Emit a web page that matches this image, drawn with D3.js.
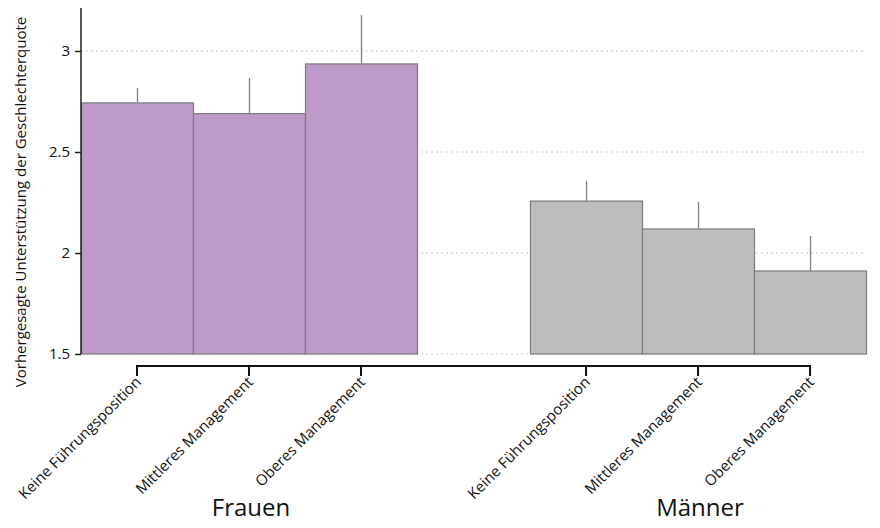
<!DOCTYPE html>
<html><head><meta charset="utf-8">
<script src="https://cdn.jsdelivr.net/npm/d3@7"></script>
<style>body{margin:0;background:#fff}svg{display:block}text{font-family:"Open Sans",sans-serif;fill:#111}</style>
</head><body><svg id="c" width="880" height="528"></svg>
<script>
const groups = ["Frauen", "Männer"];
const categories = ["Keine Führungsposition", "Mittleres Management", "Oberes Management"];
const frauenValues = [2.743, 2.690, 2.936];
const frauenUpper = [2.817, 2.866, 3.178];
const maennerValues = [2.257, 2.119, 1.911];
const maennerUpper = [2.356, 2.252, 2.084];
const yTicks = [1.5, 2, 2.5, 3];
const yTickLabels = ["1.5", "2", "2.5", "3"];
const groupColors = ["#bd9bc9", "#bcbdbf"];

const data = [];
groups.forEach((g, gi) => {
  const vals = gi === 0 ? frauenValues : maennerValues;
  const ups = gi === 0 ? frauenUpper : maennerUpper;
  categories.forEach((c, ci) => data.push({group: g, gi, cat: c, value: vals[ci], upper: ups[ci]}));
});

const svg = d3.select("#c");
const mLeft = 81, mRight = 866, mTop = 8, mBottom = 354;
const y = d3.scaleLinear().domain([1.5, 1.5 + (mBottom - mTop) / 202]).range([mBottom, mTop]);
const x0 = d3.scaleBand().domain(groups).range([mLeft, mRight]).paddingInner(113 / 449).paddingOuter(0);
const x1 = d3.scaleBand().domain(categories).range([0, x0.bandwidth()]).padding(0);

// gridlines
svg.append("g").selectAll("line").data(yTicks).join("line")
  .attr("x1", mLeft).attr("x2", mRight).attr("y1", d => y(d)).attr("y2", d => y(d))
  .attr("stroke", "#c8c8c8").attr("stroke-width", 1).attr("stroke-dasharray", "2,3");

// bars
const bars = svg.append("g");
bars.selectAll("rect").data(data).join("rect")
  .attr("x", d => x0(d.group) + x1(d.cat) + 0.5)
  .attr("y", d => y(d.value))
  .attr("width", x1.bandwidth())
  .attr("height", d => y(1.5) - y(d.value))
  .attr("fill", d => groupColors[d.gi])
  .attr("stroke", "#7a7a7a").attr("stroke-width", 1.2);

// error bars (upper only)
bars.selectAll("line").data(data).join("line")
  .attr("x1", d => x0(d.group) + x1(d.cat) + x1.bandwidth() / 2 + 0.5)
  .attr("x2", d => x0(d.group) + x1(d.cat) + x1.bandwidth() / 2 + 0.5)
  .attr("y1", d => y(d.value)).attr("y2", d => y(d.upper))
  .attr("stroke", "#808080").attr("stroke-width", 1.3);

// y axis
const yAxis = d3.axisLeft(y).tickValues(yTicks).tickFormat((d, i) => yTickLabels[i]).tickSize(6).tickPadding(5);
const ya = svg.append("g").attr("transform", `translate(${mLeft},0)`).call(yAxis);
ya.select(".domain").attr("stroke", "#222").attr("stroke-width", 1.5).attr("d", `M0,${mTop}V${mBottom}`);
ya.selectAll(".tick line").attr("stroke", "#222").attr("stroke-width", 1.5);
ya.selectAll(".tick text").attr("font-size", 15).attr("font-family", "Open Sans").attr("fill", "#111");

svg.append("text").attr("transform", `translate(26,202) rotate(-90)`)
  .attr("text-anchor", "middle").attr("font-size", 15)
  .text("Vorhergesagte Unterstützung der Geschlechterquote");

// bottom bracket axis
const centers = data.map(d => x0(d.group) + x1(d.cat) + x1.bandwidth() / 2);
const axY = 366;
const bx = svg.append("g");
bx.append("line").attr("x1", d3.min(centers)).attr("x2", d3.max(centers))
  .attr("y1", axY).attr("y2", axY).attr("stroke", "#111").attr("stroke-width", 2);
bx.selectAll("line.t").data(data).join("line").attr("class", "t")
  .attr("x1", d => x0(d.group) + x1(d.cat) + x1.bandwidth() / 2)
  .attr("x2", d => x0(d.group) + x1(d.cat) + x1.bandwidth() / 2)
  .attr("y1", axY - 1).attr("y2", axY + 10).attr("stroke", "#111").attr("stroke-width", 2);
bx.selectAll("text.cl").data(data).join("text").attr("class", "cl")
  .attr("transform", d => `translate(${x0(d.group) + x1(d.cat) + x1.bandwidth() / 2 + 5},${axY + 17}) rotate(-45)`)
  .attr("text-anchor", "end").attr("font-size", 15).text(d => d.cat);

// group labels
svg.append("g").selectAll("text").data(groups).join("text")
  .attr("x", g => x0(g) + x0.bandwidth() / 2 + 2).attr("y", 516)
  .attr("text-anchor", "middle").attr("font-size", 24).text(g => g);
</script></body></html>
